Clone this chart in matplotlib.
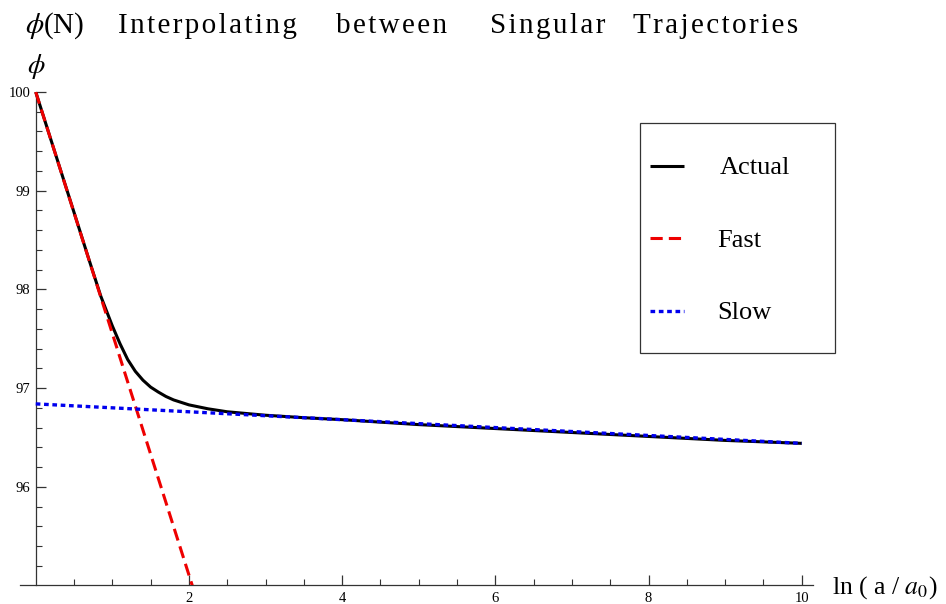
import matplotlib
matplotlib.use("Agg")
import matplotlib.pyplot as plt
from matplotlib.ticker import FixedLocator
from matplotlib.lines import Line2D
from matplotlib.patches import Rectangle

plt.rcParams['font.family'] = ['Liberation Serif', 'DejaVu Serif']
plt.rcParams['mathtext.fontset'] = 'stix'

# ---- data ----
actual_x = [0, 0.25, 0.5, 0.7, 0.85, 1.0, 1.1, 1.2, 1.3, 1.4, 1.5, 1.6, 1.7, 1.8,
            2.0, 2.25, 2.5, 3.0, 3.5, 4, 5, 6, 7, 8, 9, 10]
actual_y = [100.0, 99.39, 98.78, 98.29, 97.93, 97.63, 97.45, 97.29, 97.17, 97.08,
            97.01, 96.96, 96.915, 96.88, 96.83, 96.79, 96.76, 96.725, 96.70, 96.68,
            96.63, 96.59, 96.55, 96.51, 96.47, 96.44]
fast_x = [0, 2.06]
fast_y = [100.0, 94.96]
slow_x = [0, 2, 4, 6, 8, 10]
slow_y = [96.84, 96.76, 96.68, 96.60, 96.52, 96.44]

xticks = [2, 4, 6, 8, 10]
yticks = [96, 97, 98, 99, 100]
series_labels = ['Actual', 'Fast', 'Slow']
title_words = [r'$\phi$(N)', 'Interpolating', 'between', 'Singular', 'Trajectories']

HS = '\u200a'  # hair space for letter spacing


def spaced(s):
    return HS.join(s)


W, H = 946, 604
fig = plt.figure(figsize=(9.46, 6.04), dpi=100)
ax = fig.add_axes([0.02157, 0.03063, 0.8381, 0.8171])

styles = [dict(color='black', lw=2.2, solid_capstyle='butt', zorder=3),
          dict(color='#ee0000', lw=2.2, dashes=(4, 2), zorder=4),
          dict(color='#0000ee', lw=2.4, dashes=(1.4, 1.1), zorder=5)]

ax.plot(actual_x, actual_y, **styles[0])
ax.plot(fast_x, fast_y, **styles[1])
ax.plot(slow_x, slow_y, **styles[2])

ax.set_xlim(-0.2, 10.15)
ax.set_ylim(95.0, 100.0)

for s in ['top', 'right']:
    ax.spines[s].set_visible(False)
ax.spines['left'].set_position(('data', 0))
for s in ['left', 'bottom']:
    ax.spines[s].set_color('#333333')
    ax.spines[s].set_linewidth(0.9)

ax.xaxis.set_major_locator(FixedLocator(xticks))
ax.xaxis.set_minor_locator(FixedLocator([0.5, 1, 1.5, 2.5, 3, 3.5, 4.5, 5, 5.5,
                                         6.5, 7, 7.5, 8.5, 9, 9.5]))
ax.yaxis.set_major_locator(FixedLocator(yticks))
ax.yaxis.set_minor_locator(FixedLocator([95.2, 95.4, 95.6, 95.8, 96.2, 96.4, 96.6, 96.8,
                                         97.2, 97.4, 97.6, 97.8, 98.2, 98.4, 98.6, 98.8,
                                         99.2, 99.4, 99.6, 99.8]))
ax.tick_params(axis='both', which='major', direction='in', length=7, width=0.9,
               color='#333333', labelsize=10.5)
ax.tick_params(axis='both', which='minor', direction='in', length=4, width=0.8,
               color='#333333')
ax.tick_params(axis='x', which='major', pad=5)
ax.tick_params(axis='y', which='major', pad=4)
ax.set_xticklabels([str(t) for t in xticks])
ax.set_yticklabels([str(t) for t in yticks])

# title, word by word with letter spacing
word_x = [25, 118, 336, 490, 633]
for wx, wtxt in zip(word_x, title_words):
    txt = wtxt if wtxt.startswith('$') else spaced(wtxt)
    fig.text(wx / W, 1 - 33 / H, txt, fontsize=21, va='baseline', ha='left')

fig.text(27 / W, 1 - 73 / H, r'$\phi$', fontsize=20, va='baseline', ha='left')
fig.text(832 / W, 1 - 594 / H, r'ln ( a / $a_0$)', fontsize=18.5, va='baseline', ha='left')

# legend box drawn by hand
fig.patches.append(Rectangle((640 / W, 1 - 353 / H), 195 / W, 230 / H,
                             transform=fig.transFigure, facecolor='white',
                             edgecolor='#333333', lw=0.9, zorder=10))
handle_y = [166, 238, 311]
text_base = [174, 247, 319]
text_x = [720, 717, 717]
for i, lab in enumerate(series_labels):
    st = dict(styles[i])
    st['zorder'] = 11
    fig.lines.append(Line2D([650 / W, 684 / W], [1 - handle_y[i] / H] * 2,
                            transform=fig.transFigure, **st))
    fig.text(text_x[i] / W, 1 - text_base[i] / H, lab, fontsize=19,
             va='baseline', ha='left', zorder=12)

fig.savefig('out.png', dpi=100)
